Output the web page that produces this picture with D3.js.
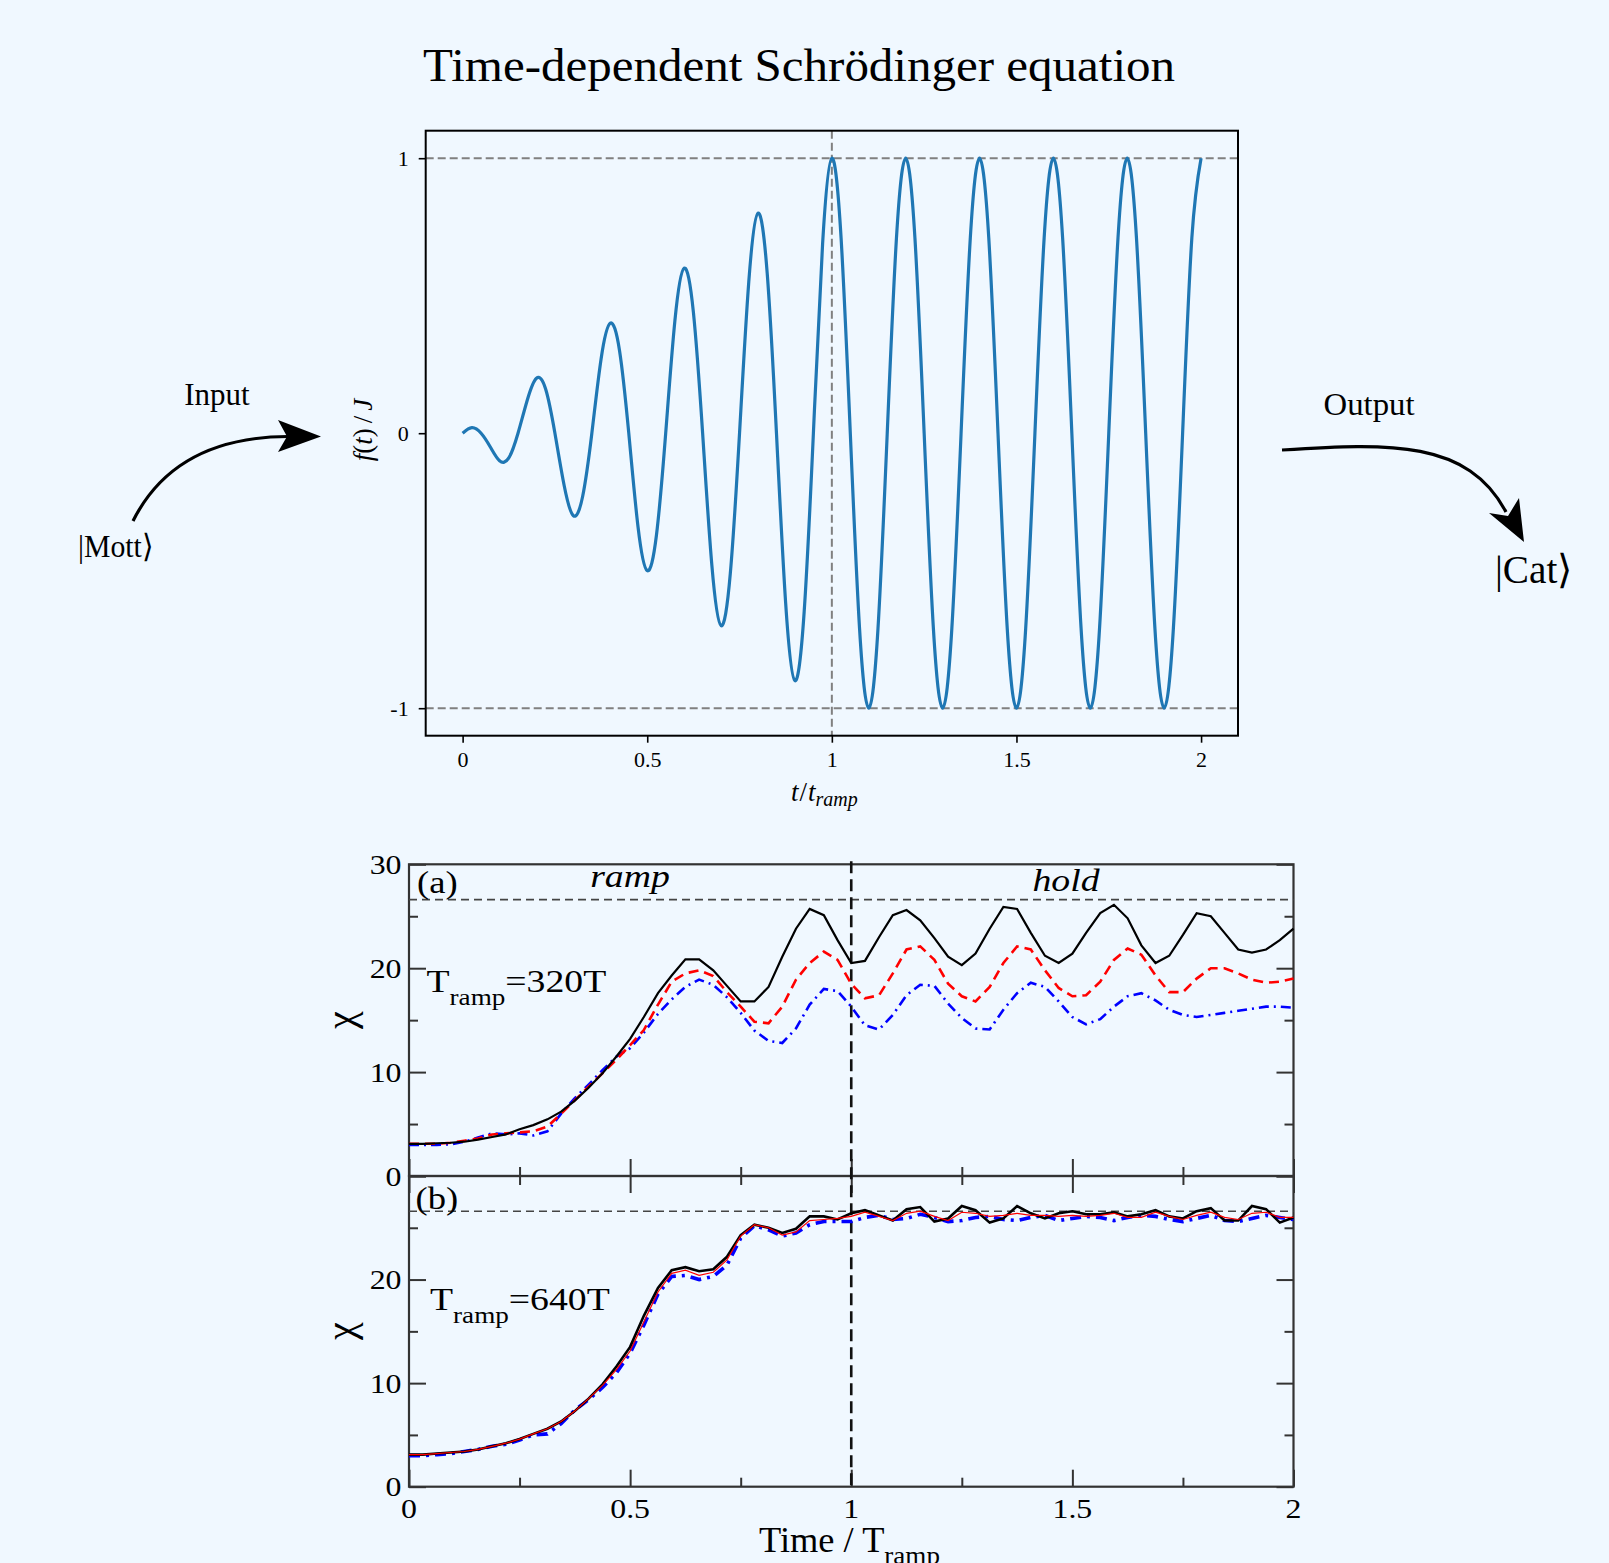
<!DOCTYPE html>
<html>
<head>
<meta charset="utf-8">
<script src="https://cdn.jsdelivr.net/npm/d3@7"></script>
<style>
    body { margin: 0; background: #f0f8ff; }
    svg { display: block; }
</style>
</head>
<body>
<script>
//Top panel: drive f(t)/J (ramp then hold)
const fTimes = [0, 0.025, 0.05, 0.075, 0.1, 0.125, 0.15, 0.175, 0.2, 0.225, 0.25, 0.275, 0.3, 0.325, 0.35, 0.375,
    0.4, 0.425, 0.45, 0.475, 0.5, 0.525, 0.55, 0.575, 0.6, 0.625, 0.65, 0.675, 0.7, 0.725, 0.75, 0.775,
    0.8, 0.825, 0.85, 0.875, 0.9, 0.925, 0.95, 0.975, 1, 1.025, 1.05, 1.075, 1.1, 1.125, 1.15, 1.175,
    1.2, 1.225, 1.25, 1.275, 1.3, 1.325, 1.35, 1.375, 1.4, 1.425, 1.45, 1.475, 1.5, 1.525, 1.55, 1.575,
    1.6, 1.625, 1.65, 1.675, 1.7, 1.725, 1.75, 1.775, 1.8, 1.825, 1.85, 1.875, 1.9, 1.925, 1.95, 1.975, 2];
const fValues = [0, 0.02, 0, -0.05, -0.1, -0.09, 0, 0.12, 0.2, 0.16, 0, -0.19, -0.3, -0.23, 0, 0.27,
    0.4, 0.3, 0, -0.34, -0.5, -0.37, 0, 0.41, 0.6, 0.44, 0, -0.48, -0.7, -0.51, 0, 0.55,
    0.8, 0.58, 0, -0.62, -0.9, -0.65, 0, 0.69, 1, 0.71, 0, -0.71, -1, -0.71, 0, 0.71,
    1, 0.71, 0, -0.71, -1, -0.71, 0, 0.71, 1, 0.71, 0, -0.71, -1, -0.71, 0, 0.71,
    1, 0.71, 0, -0.71, -1, -0.71, 0, 0.71, 1, 0.71, 0, -0.71, -1, -0.71, 0, 0.71, 1];
const topXTicks = [0, 0.5, 1, 1.5, 2];
const topXLabels = ["0", "0.5", "1", "1.5", "2"];
const topYTicks = [-1, 0, 1];
const topYLabels = ["-1", "0", "1"];
const topGuideLevels = [-1, 1];
const topGuideTime = 1;

//Bottom panels: chi vs Time / T_ramp, three runs each
const chiTimes = [0, 0.031, 0.063, 0.094, 0.125, 0.156, 0.188, 0.219, 0.25, 0.281, 0.313, 0.344, 0.375, 0.406, 0.438, 0.469,
    0.5, 0.531, 0.563, 0.594, 0.625, 0.656, 0.688, 0.719, 0.75, 0.781, 0.813, 0.844, 0.875, 0.906, 0.938, 0.969,
    1, 1.031, 1.063, 1.094, 1.125, 1.156, 1.188, 1.219, 1.25, 1.281, 1.313, 1.344, 1.375, 1.406, 1.438, 1.469,
    1.5, 1.531, 1.563, 1.594, 1.625, 1.656, 1.688, 1.719, 1.75, 1.781, 1.813, 1.844, 1.875, 1.906, 1.938, 1.969, 2];
// (a) T_ramp = 320T
const chiA_black = [3.1, 3.1, 3.15, 3.2, 3.3, 3.5, 3.75, 4.0, 4.5, 4.9, 5.45, 6.2, 7.25, 8.5, 9.9, 11.5,
    13.2, 15.3, 17.6, 19.3, 20.85, 20.85, 19.8, 18.3, 16.8, 16.8, 18.2, 21.1, 23.8, 25.7, 25.1, 22.7,
    20.5, 20.7, 23.0, 25.1, 25.6, 24.6, 22.9, 21.1, 20.3, 21.4, 23.8, 25.9, 25.7, 23.4, 21.2, 20.5,
    21.4, 23.4, 25.3, 26.1, 24.8, 22.2, 20.5, 21.2, 23.2, 25.3, 25.0, 23.4, 21.8, 21.5, 21.8, 22.7, 23.8];
const chiA_red = [3.1, 3.1, 3.1, 3.2, 3.4, 3.6, 4.0, 4.1, 4.2, 4.3, 4.75, 6.0, 7.3, 8.6, 9.9, 11.2,
    12.6, 14.05, 16.5, 18.7, 19.5, 19.8, 19.25, 17.7, 16.3, 14.85, 14.7, 16.3, 18.9, 20.5, 21.6, 20.8,
    18.5, 17.1, 17.4, 19.5, 21.8, 22.1, 20.8, 18.5, 17.3, 16.8, 18.2, 20.5, 22.1, 21.8, 19.8, 18.1,
    17.3, 17.4, 18.7, 20.8, 21.9, 21.3, 19.3, 17.7, 17.7, 19.0, 20.0, 20.0, 19.5, 18.9, 18.6, 18.7, 19.0];
const chiA_blue = [3.0, 3.0, 3.0, 3.05, 3.3, 3.7, 4.1, 4.0, 4.1, 3.9, 4.3, 6.0, 7.5, 8.8, 10.2, 11.5,
    12.3, 13.8, 15.6, 17.0, 18.2, 18.9, 18.4, 17.2, 15.7, 14.0, 13.0, 12.8, 14.2, 16.5, 18.0, 17.8,
    16.3, 14.5, 14.1, 15.5, 17.4, 18.4, 18.3, 16.6, 15.2, 14.2, 14.1, 16.0, 17.6, 18.6, 18.2, 16.8,
    15.3, 14.6, 15.1, 16.3, 17.3, 17.6, 16.9, 16.0, 15.5, 15.3, 15.5, 15.7, 15.9, 16.1, 16.3, 16.3, 16.2];
// (b) T_ramp = 640T
const chiB_black = [3.1, 3.1, 3.2, 3.3, 3.4, 3.6, 3.9, 4.2, 4.6, 5.1, 5.6, 6.3, 7.3, 8.5, 9.9, 11.6,
    13.5, 16.5, 19.2, 20.9, 21.2, 20.8, 21.0, 22.2, 24.3, 25.3, 25.0, 24.5, 24.9, 26.1, 26.1, 25.8,
    26.4, 26.7, 26.2, 25.7, 26.8, 27.0, 25.6, 25.9, 27.1, 26.7, 25.5, 25.9, 27.1, 26.4, 25.9, 26.4,
    26.6, 26.3, 26.3, 26.5, 26.1, 26.3, 26.7, 26.1, 25.9, 26.6, 26.9, 25.7, 25.7, 27.1, 26.8, 25.5, 26.0];
const chiB_red = [3.1, 3.1, 3.2, 3.3, 3.4, 3.6, 3.9, 4.2, 4.6, 5.1, 5.6, 6.3, 7.3, 8.5, 9.8, 11.3,
    13.1, 15.9, 18.8, 20.6, 20.9, 20.4, 20.7, 21.9, 24.2, 25.3, 25.0, 24.3, 24.6, 25.7, 25.8, 25.9,
    26.1, 26.5, 26.1, 25.7, 26.4, 26.6, 26.1, 25.7, 26.5, 26.4, 26.1, 26.2, 26.4, 26.2, 26.2, 26.1,
    26.2, 26.1, 26.2, 26.4, 26.0, 26.0, 26.5, 26.1, 25.8, 26.2, 26.5, 26.0, 25.8, 26.4, 26.5, 26.0, 26.0];
const chiB_blue = [3.0, 3.0, 3.1, 3.2, 3.4, 3.6, 3.9, 4.1, 4.5, 5.0, 5.1, 6.1, 7.4, 8.4, 9.6, 11.0,
    12.9, 15.6, 18.6, 20.3, 20.4, 20.0, 20.3, 21.4, 24.0, 25.2, 24.8, 24.2, 24.5, 25.3, 25.6, 25.6,
    25.6, 26.0, 26.2, 25.8, 25.9, 26.3, 26.0, 25.6, 25.7, 26.0, 26.1, 25.8, 25.7, 26.0, 26.2, 25.7,
    25.9, 26.1, 26.0, 25.7, 26.0, 26.2, 26.1, 25.8, 25.6, 25.9, 26.2, 25.7, 25.6, 25.9, 26.2, 26.0, 25.8];
const chiXTicks = [0, 0.5, 1, 1.5, 2];
const chiXLabels = ["0", "0.5", "1", "1.5", "2"];
const chiXMinor = [0.25, 0.75, 1.25, 1.75];
const chiYTicks = [0, 10, 20, 30];
const chiYMinor = [5, 15, 25];
const chiALabelTicks = [0, 10, 20, 30];
const chiBLabelTicks = [0, 10, 20];
const chiSaturation = 26.6;
const chiRampEnd = 1;


function main() {
    let serif = "'Liberation Serif', 'Times New Roman', serif";

    let svg = d3.select("body").append("svg")
        .attr("width", 1609)
        .attr("height", 1563)
        .style("background", "#f0f8ff");

    drawTopPlot(svg, serif);
    drawArrows(svg, serif);
    drawChiPlots(svg, serif);
}

function drawTopPlot(svg, serif) {
    // frame of the matplotlib axes
    let left = 425.7, right = 1238, top = 130.7, bottom = 735.7;

    let x = d3.scaleLinear().domain([-0.1, 2.1]).range([left, right]);
    let y = d3.scaleLinear().domain([-1.1, 1.1]).range([bottom, top]);

    svg.append("text")
        .attr("x", 799)
        .attr("y", 81)
        .attr("text-anchor", "middle")
        .attr("font-family", serif)
        .attr("font-size", 46)
        .attr("textLength", 752)
        .attr("lengthAdjust", "spacingAndGlyphs")
        .text("Time-dependent Schrödinger equation");

    // dashed guide lines
    svg.selectAll(".hguide")
        .data(topGuideLevels)
        .enter().append("line")
        .attr("x1", left).attr("x2", right)
        .attr("y1", d => y(d)).attr("y2", d => y(d))
        .attr("stroke", "#808080")
        .attr("stroke-width", 2)
        .attr("stroke-dasharray", "8,4");

    svg.append("line")
        .attr("x1", x(topGuideTime)).attr("x2", x(topGuideTime))
        .attr("y1", top).attr("y2", bottom)
        .attr("stroke", "#808080")
        .attr("stroke-width", 2)
        .attr("stroke-dasharray", "8,4");

    let line = d3.line()
        .x((d, i) => x(fTimes[i]))
        .y(d => y(d))
        .curve(d3.curveNatural);

    svg.append("path")
        .datum(fValues)
        .attr("d", line)
        .attr("fill", "none")
        .attr("stroke", "#1f77b4")
        .attr("stroke-width", 3.2);

    svg.append("rect")
        .attr("x", left).attr("y", top)
        .attr("width", right - left).attr("height", bottom - top)
        .attr("fill", "none")
        .attr("stroke", "#000")
        .attr("stroke-width", 2);

    // axes
    let xAxis = svg.append("g")
        .attr("transform", "translate(0," + bottom + ")")
        .call(d3.axisBottom(x).tickValues(topXTicks)
            .tickFormat((d, i) => topXLabels[i])
            .tickSize(7).tickSizeOuter(0).tickPadding(9));
    let yAxis = svg.append("g")
        .attr("transform", "translate(" + left + ",0)")
        .call(d3.axisLeft(y).tickValues(topYTicks)
            .tickFormat((d, i) => topYLabels[i])
            .tickSize(7).tickSizeOuter(0).tickPadding(10));

    [xAxis, yAxis].forEach(function (g) {
        g.select(".domain").remove();
        g.selectAll("line").attr("stroke", "#000").attr("stroke-width", 1.6);
        g.selectAll("text")
            .attr("font-family", serif)
            .attr("font-size", 22)
            .attr("fill", "#000");
    });

    // axis titles
    let xTitle = svg.append("text")
        .attr("x", 791)
        .attr("y", 801)
        .attr("font-family", serif)
        .attr("font-size", 27)
        .attr("font-style", "italic");
    xTitle.append("tspan").text("t");
    xTitle.append("tspan").attr("font-style", "normal").attr("dx", 1).text("/");
    xTitle.append("tspan").attr("dx", 1).text("t");
    xTitle.append("tspan").attr("font-size", 20).attr("dy", 5).text("ramp");

    let yTitle = svg.append("text")
        .attr("transform", "translate(372,430) rotate(-90)")
        .attr("text-anchor", "middle")
        .attr("font-family", serif)
        .attr("font-size", 27)
        .attr("font-style", "italic");
    yTitle.append("tspan").text("f");
    yTitle.append("tspan").attr("font-style", "normal").text("(");
    yTitle.append("tspan").text("t");
    yTitle.append("tspan").attr("font-style", "normal").text(")");
    yTitle.append("tspan").attr("font-style", "normal").attr("dx", 5).text("/");
    yTitle.append("tspan").attr("dx", 5).text("J");
}

function drawArrows(svg, serif) {
    // Input arrow: |Mott> into the drive plot
    svg.append("path")
        .attr("d", "M133,521 Q175,437 288,436.5")
        .attr("fill", "none")
        .attr("stroke", "#000")
        .attr("stroke-width", 3.2);
    svg.append("path")
        .attr("d", "M321,436.5 L278,420 L287,436.5 L278,452 Z")
        .attr("fill", "#000");

    // Output arrow: into |Cat>
    svg.append("path")
        .attr("d", "M1282,450 C1390,443 1468,440 1506,512")
        .attr("fill", "none")
        .attr("stroke", "#000")
        .attr("stroke-width", 3.2);
    svg.append("path")
        .attr("d", "M1524,542 L1489,513 L1508,516 L1519,498 Z")
        .attr("fill", "#000");

    svg.append("text")
        .attr("x", 217).attr("y", 405)
        .attr("text-anchor", "middle")
        .attr("font-family", serif).attr("font-size", 31)
        .text("Input");
    svg.append("text")
        .attr("x", 1369).attr("y", 415)
        .attr("text-anchor", "middle")
        .attr("font-family", serif).attr("font-size", 31)
        .attr("textLength", 91).attr("lengthAdjust", "spacingAndGlyphs")
        .text("Output");
    svg.append("text")
        .attr("x", 78).attr("y", 557)
        .attr("font-family", serif).attr("font-size", 32)
        .attr("textLength", 75).attr("lengthAdjust", "spacingAndGlyphs")
        .text("|Mott\u27E9");
    svg.append("text")
        .attr("x", 1495).attr("y", 583)
        .attr("font-family", serif).attr("font-size", 40)
        .attr("textLength", 78).attr("lengthAdjust", "spacingAndGlyphs")
        .text("|Cat\u27E9");
}

function drawChiPlots(svg, serif) {
    let left = 409, right = 1293.5;
    let topA = 864.3, split = 1176, bottomB = 1486.7;
    let sx = 1.18; // the xmgrace figure is stretched sideways

    let x = d3.scaleLinear().domain([0, 2]).range([left, right]);
    let yA = d3.scaleLinear().domain([0, 30]).range([split, topA]);
    let yB = d3.scaleLinear().domain([0, 30]).range([bottomB, split]);

    function stretched(px, py, size, anchor) {
        return svg.append("text")
            .attr("transform", "translate(" + px + "," + py + ") scale(" + sx + ",1)")
            .attr("text-anchor", anchor)
            .attr("font-family", serif)
            .attr("font-size", size)
            .attr("fill", "#000");
    }

    function styleAxis(g) {
        g.select(".domain").remove();
        g.selectAll("line").attr("stroke", "#333").attr("stroke-width", 2);
    }

    // inner ticks on every side of both panels (top of (a) has none)
    let panels = [
        {y: yA, top: topA, bottom: split, topTicks: false},
        {y: yB, top: split, bottom: bottomB, topTicks: true}
    ];
    panels.forEach(function (p) {
        [[chiXTicks, 17], [chiXMinor, 9]].forEach(function (t) {
            styleAxis(svg.append("g")
                .attr("transform", "translate(0," + p.bottom + ")")
                .call(d3.axisBottom(x).tickValues(t[0]).tickSize(-t[1]).tickSizeOuter(0).tickFormat("")));
            if (p.topTicks) {
                styleAxis(svg.append("g")
                    .attr("transform", "translate(0," + p.top + ")")
                    .call(d3.axisTop(x).tickValues(t[0]).tickSize(-t[1]).tickSizeOuter(0).tickFormat("")));
            }
        });
        [[chiYTicks, 17], [chiYMinor, 9]].forEach(function (t) {
            styleAxis(svg.append("g")
                .attr("transform", "translate(" + left + ",0)")
                .call(d3.axisLeft(p.y).tickValues(t[0]).tickSize(-t[1]).tickSizeOuter(0).tickFormat("")));
            styleAxis(svg.append("g")
                .attr("transform", "translate(" + right + ",0)")
                .call(d3.axisRight(p.y).tickValues(t[0]).tickSize(-t[1]).tickSizeOuter(0).tickFormat("")));
        });

        svg.append("rect")
            .attr("x", left).attr("y", p.top)
            .attr("width", right - left).attr("height", p.bottom - p.top)
            .attr("fill", "none")
            .attr("stroke", "#333")
            .attr("stroke-width", 2.2);

        // saturation level
        svg.append("line")
            .attr("x1", x(0)).attr("x2", x(2))
            .attr("y1", p.y(chiSaturation)).attr("y2", p.y(chiSaturation))
            .attr("stroke", "#444")
            .attr("stroke-width", 1.6)
            .attr("stroke-dasharray", "8,5");
    });

    // end of ramp
    svg.append("line")
        .attr("x1", x(chiRampEnd)).attr("x2", x(chiRampEnd))
        .attr("y1", topA - 3).attr("y2", bottomB)
        .attr("stroke", "#111")
        .attr("stroke-width", 2.6)
        .attr("stroke-dasharray", "12,6");

    // curves
    let series = [
        {data: chiA_blue, y: yA, color: "#0000ff", width: 2.6, dash: "10,5,2,5"},
        {data: chiA_red, y: yA, color: "#ff0000", width: 2.6, dash: "10,6"},
        {data: chiA_black, y: yA, color: "#000", width: 2.2, dash: null},
        {data: chiB_blue, y: yB, color: "#0000ff", width: 3.6, dash: "11,6,3,6"},
        {data: chiB_black, y: yB, color: "#000", width: 2.6, dash: null},
        {data: chiB_red, y: yB, color: "#ff0000", width: 1.2, dash: null}
    ];
    series.forEach(function (s) {
        let line = d3.line()
            .x((d, i) => x(chiTimes[i]))
            .y(d => s.y(d));
        svg.append("path")
            .datum(s.data)
            .attr("d", line)
            .attr("fill", "none")
            .attr("stroke", s.color)
            .attr("stroke-width", s.width)
            .attr("stroke-dasharray", s.dash);
    });

    // tick labels
    chiALabelTicks.forEach(v => stretched(401.5, yA(v) + 9.5, 27, "end").text(v));
    chiBLabelTicks.forEach(v => stretched(401.5, yB(v) + 9.5, 27, "end").text(v));
    chiXTicks.forEach((v, i) => stretched(x(v), 1518, 27, "middle").text(chiXLabels[i]));

    // panel annotations
    stretched(417, 893, 31, "start").text("(a)");
    stretched(415.5, 1209, 31, "start").text("(b)");
    stretched(630, 886.5, 32, "middle").attr("font-style", "italic").text("ramp");
    stretched(1066, 890.5, 32, "middle").attr("font-style", "italic").text("hold");

    let tA = stretched(426.5, 991.5, 32, "start");
    tA.append("tspan").text("T");
    tA.append("tspan").attr("font-size", 23).attr("dy", 13).text("ramp");
    tA.append("tspan").attr("dy", -13).text("=320T");
    let tB = stretched(430, 1310, 32, "start");
    tB.append("tspan").text("T");
    tB.append("tspan").attr("font-size", 23).attr("dy", 13).text("ramp");
    tB.append("tspan").attr("dy", -13).text("=640T");

    // axis titles
    [1020, 1331].forEach(function (cy) {
        svg.append("text")
            .attr("transform", "translate(349," + cy + ") rotate(-90)")
            .attr("text-anchor", "middle")
            .attr("y", 5)
            .attr("font-family", serif)
            .attr("font-size", 40)
            .text("\u03C7");
    });

    let xt = svg.append("text")
        .attr("transform", "translate(759,1552) scale(1.04,1)")
        .attr("font-family", serif)
        .attr("font-size", 35);
    xt.append("tspan").text("Time / T");
    xt.append("tspan").attr("font-size", 26).attr("dy", 12).text("ramp");
}

main();
</script>
</body>
</html>
